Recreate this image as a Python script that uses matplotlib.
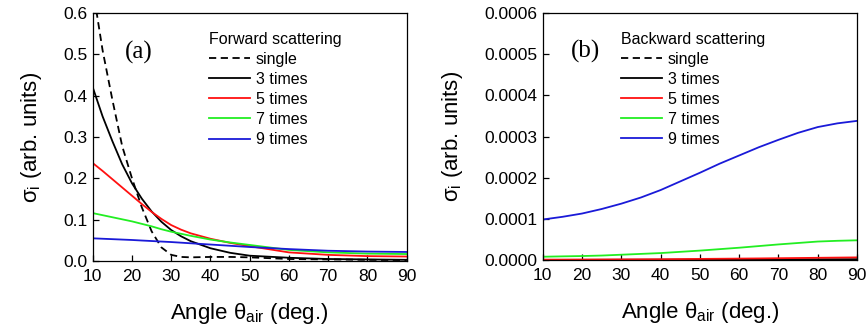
import numpy as np
import matplotlib
matplotlib.use("Agg")
import matplotlib.pyplot as plt
from matplotlib.ticker import FormatStrFormatter

plt.rcParams['font.family'] = ['Liberation Sans', 'DejaVu Sans']
plt.rcParams['mathtext.fontset'] = 'custom'
plt.rcParams['mathtext.rm'] = 'Liberation Sans'
plt.rcParams['mathtext.it'] = 'Liberation Sans'

# forward scattering (panel a)
ang_f = [10, 12.5, 15, 17.5, 20, 22.5, 25, 27.5, 30, 32.5, 35, 40, 45, 50, 60, 70, 80, 90]
fw_single = [0.66, 0.51, 0.39, 0.278, 0.20, 0.13, 0.072, 0.033, 0.015, 0.010, 0.009, 0.010, 0.010, 0.009, 0.005, 0.004, 0.003, 0.0025]
fw_3 = [0.42, 0.35, 0.29, 0.234, 0.188, 0.151, 0.120, 0.095, 0.075, 0.060, 0.048, 0.031, 0.020, 0.013, 0.008, 0.005, 0.004, 0.003]
fw_5 = [0.237, 0.218, 0.198, 0.178, 0.158, 0.138, 0.119, 0.102, 0.087, 0.076, 0.067, 0.054, 0.044, 0.036, 0.021, 0.015, 0.012, 0.011]
fw_7 = [0.116, 0.111, 0.106, 0.101, 0.096, 0.090, 0.084, 0.077, 0.071, 0.066, 0.061, 0.052, 0.045, 0.039, 0.027, 0.021, 0.018, 0.017]
fw_9 = [0.055, 0.054, 0.053, 0.052, 0.051, 0.0497, 0.0485, 0.0472, 0.046, 0.0445, 0.043, 0.040, 0.037, 0.034, 0.029, 0.025, 0.023, 0.022]

# backward scattering (panel b)
ang_b = [10, 15, 20, 25, 30, 35, 40, 45, 50, 55, 60, 65, 70, 75, 80, 85, 90]
bw_single = [0.0] * 17
bw_3 = [0.0000005, 0.0000005, 0.0000006, 0.0000007, 0.0000008, 0.0000009, 0.000001, 0.0000011, 0.0000012,
        0.0000013, 0.0000015, 0.0000016, 0.0000018, 0.0000019, 0.000002, 0.0000021, 0.0000022]
bw_5 = [0.000001, 0.0000011, 0.0000012, 0.0000014, 0.0000016, 0.0000018, 0.000002, 0.0000024, 0.0000028,
        0.0000032, 0.0000036, 0.000004, 0.0000045, 0.000005, 0.0000055, 0.000006, 0.0000065]
bw_7 = [0.0000081, 0.000009, 0.0000098, 0.000011, 0.000013, 0.000015, 0.000017, 0.00002, 0.000023,
        0.0000265, 0.00003, 0.000034, 0.000038, 0.0000415, 0.000045, 0.0000468, 0.000048]
bw_9 = [0.0000985, 0.000105, 0.000113, 0.000124, 0.000137, 0.000152, 0.00017, 0.000191, 0.000212,
        0.000234, 0.000254, 0.000274, 0.000292, 0.000309, 0.000323, 0.000332, 0.000338]

labels = ['single', '3 times', '5 times', '7 times', '9 times']
colors = ['black', 'black', '#ff1010', '#22ee22', '#1a1ad8']
styles = [(0, (4, 2.5)), '-', '-', '-', '-']

fig = plt.figure(figsize=(8.67, 3.33), dpi=100)
ax1 = fig.add_axes([0.107, 0.216, 0.362, 0.745])
ax2 = fig.add_axes([0.626, 0.219, 0.3625, 0.742])

def style_axes(ax, ylim, yticks, fmt):
    ax.set_xlim(10, 90)
    ax.set_ylim(*ylim)
    ax.set_xticks(range(10, 91, 10))
    ax.set_yticks(yticks)
    ax.yaxis.set_major_formatter(FormatStrFormatter(fmt))
    ax.tick_params(direction='in', length=4, width=0.9, labelsize=12.5)
    ax.tick_params(axis='x', pad=6)
    ax.tick_params(axis='y', pad=4)
    for s in ax.spines.values():
        s.set_linewidth(0.9)
    ax.set_xlabel(r'Angle $\mathregular{\theta_{air}}$ (deg.)', fontsize=16, labelpad=12)
    ax.set_ylabel(r'$\mathregular{\sigma_i}$ (arb. units)', fontsize=16, labelpad=14)

for y, lab, c, ls in zip([fw_single, fw_3, fw_5, fw_7, fw_9], labels, colors, styles):
    ax1.plot(ang_f, y, color=c, ls=ls, lw=1.3, label=lab)
for y, lab, c, ls in zip([bw_single, bw_3, bw_5, bw_7, bw_9], labels, colors, styles):
    ax2.plot(ang_b, y, color=c, ls=ls, lw=1.3, label=lab)

style_axes(ax1, (0, 0.6), np.arange(0, 0.61, 0.1), '%.1f')
style_axes(ax2, (0, 0.0006), np.arange(0, 0.00061, 0.0001), '%.4f')

ax1.text(0.147, 0.84, '(a)', transform=ax1.transAxes, fontsize=18,
         family='Liberation Serif', ha='center', va='center')
ax2.text(0.135, 0.843, '(b)', transform=ax2.transAxes, fontsize=18,
         family='Liberation Serif', ha='center', va='center')

for ax, title, x0 in [(ax1, 'Forward scattering', 0.37), (ax2, 'Backward scattering', 0.248)]:
    leg = ax.legend(title=title, loc='upper left', bbox_to_anchor=(x0, 0.925),
                    frameon=False, fontsize=11.5, title_fontsize=11.5,
                    handlelength=2.6, handletextpad=0.35, labelspacing=0.32,
                    borderpad=0, borderaxespad=0, alignment='left')

fig.savefig('out.png', dpi=100)
